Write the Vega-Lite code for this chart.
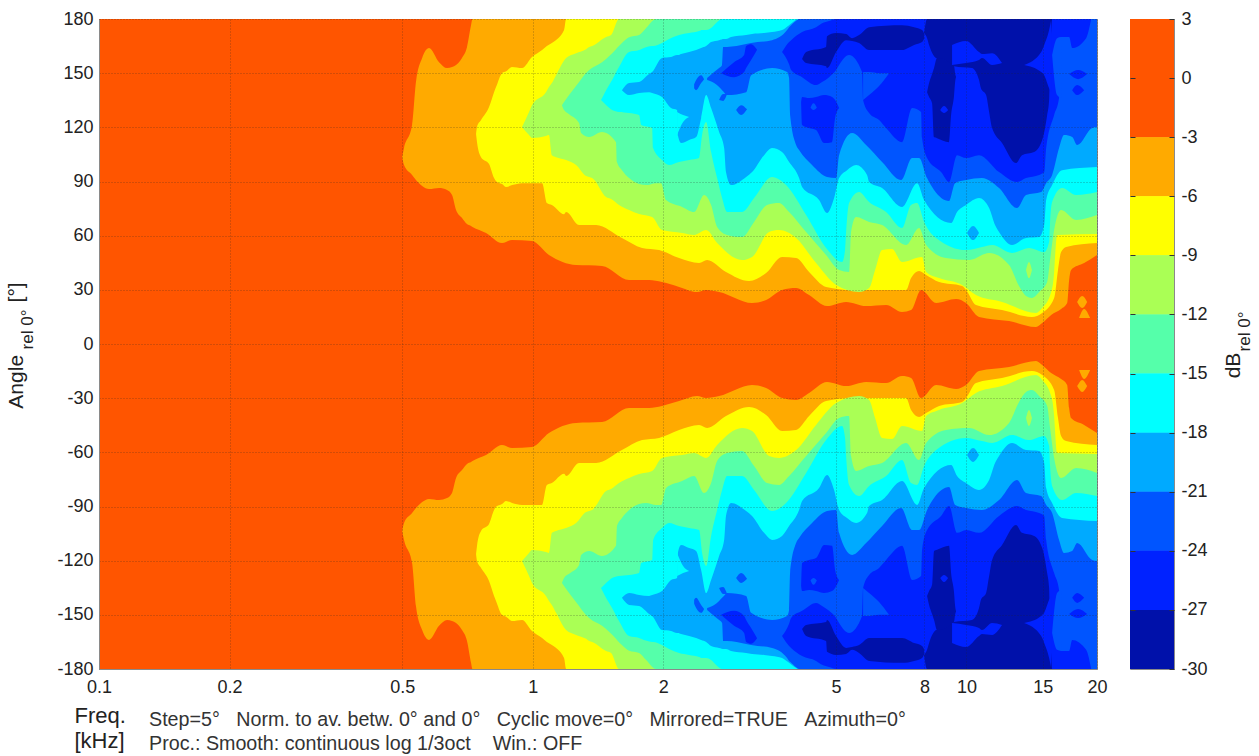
{"$schema":"https://vega.github.io/schema/vega-lite/v6.json","background":"white","bounds":"flush","spacing":33,"padding":{"left":4,"top":9,"right":0,"bottom":0},
"datasets":{"d":[
{"s":"base","b":-3,"f":0.1,"lo":0,"hi":180},{"s":"base","b":-3,"f":20,"lo":0,"hi":180},
{"s":"A","b":-6,"f":0.5,"lo":103.5,"hi":103.5},{"s":"A","b":-6,"f":0.505,"lo":99.1,"hi":108.5},{"s":"A","b":-6,"f":0.527,"lo":93.6,"hi":121.3},{"s":"A","b":-6,"f":0.538,"lo":90.8,"hi":145.1},{"s":"A","b":-6,"f":0.556,"lo":87.5,"hi":158.4},{"s":"A","b":-6,"f":0.5767,"lo":85.8,"hi":163.9},{"s":"A","b":-6,"f":0.6081,"lo":86.4,"hi":156.1},{"s":"A","b":-6,"f":0.6345,"lo":85.3,"hi":152.8},{"s":"A","b":-6,"f":0.6516,"lo":82.5,"hi":153.4},{"s":"A","b":-6,"f":0.6656,"lo":74.2,"hi":154.5},{"s":"A","b":-6,"f":0.687,"lo":69.8,"hi":158.4},{"s":"A","b":-6,"f":0.7055,"lo":66.4,"hi":164.5},{"s":"A","b":-6,"f":0.7207,"lo":65.3,"hi":176.6},{"s":"A","b":-6,"f":0.7263,"lo":64.8,"hi":180},{"s":"A","b":-6,"f":0.7805,"lo":61.5,"hi":180},{"s":"A","b":-6,"f":0.8496,"lo":55.9,"hi":180},{"s":"A","b":-6,"f":0.896,"lo":57.6,"hi":180},{"s":"A","b":-6,"f":0.9963,"lo":57,"hi":180},{"s":"A","b":-6,"f":1.09,"lo":49.3,"hi":180},{"s":"A","b":-6,"f":1.259,"lo":43.7,"hi":180},{"s":"A","b":-6,"f":1.445,"lo":43.2,"hi":180},{"s":"A","b":-6,"f":1.668,"lo":35.4,"hi":180},{"s":"A","b":-6,"f":1.855,"lo":35.4,"hi":180},{"s":"A","b":-6,"f":1.987,"lo":34.3,"hi":180},{"s":"A","b":-6,"f":2.175,"lo":31.6,"hi":180},{"s":"A","b":-6,"f":2.393,"lo":28.8,"hi":180},{"s":"A","b":-6,"f":2.511,"lo":29.9,"hi":180},{"s":"A","b":-6,"f":2.69,"lo":28.8,"hi":180},{"s":"A","b":-6,"f":3.204,"lo":22.7,"hi":180},{"s":"A","b":-6,"f":3.452,"lo":24.4,"hi":180},{"s":"A","b":-6,"f":3.757,"lo":29.9,"hi":180},{"s":"A","b":-6,"f":4.048,"lo":31,"hi":180},{"s":"A","b":-6,"f":4.337,"lo":27.1,"hi":180},{"s":"A","b":-6,"f":4.77,"lo":21,"hi":180},{"s":"A","b":-6,"f":5.279,"lo":23.3,"hi":180},{"s":"A","b":-6,"f":5.87,"lo":21,"hi":180},{"s":"A","b":-6,"f":6.528,"lo":21.6,"hi":180},{"s":"A","b":-6,"f":7.105,"lo":17.7,"hi":180},{"s":"A","b":-6,"f":7.454,"lo":18.8,"hi":180},{"s":"A","b":-6,"f":7.86,"lo":29.9,"hi":180},{"s":"A","b":-6,"f":8.513,"lo":22.7,"hi":180},{"s":"A","b":-6,"f":9.465,"lo":24.9,"hi":180},{"s":"A","b":-6,"f":9.98,"lo":22.7,"hi":180},{"s":"A","b":-6,"f":10.69,"lo":15,"hi":180},{"s":"A","b":-6,"f":12.54,"lo":12.7,"hi":180},{"s":"A","b":-6,"f":14.47,"lo":9.4,"hi":180},{"s":"A","b":-6,"f":14.95,"lo":11.6,"hi":180},{"s":"A","b":-6,"f":15.68,"lo":16.1,"hi":180},{"s":"A","b":-6,"f":16.53,"lo":19.4,"hi":180},{"s":"A","b":-6,"f":17.07,"lo":22.7,"hi":180},{"s":"A","b":-6,"f":17.25,"lo":35.4,"hi":180},{"s":"A","b":-6,"f":17.43,"lo":41,"hi":180},{"s":"A","b":-6,"f":18.68,"lo":44.8,"hi":180},{"s":"A","b":-6,"f":20,"lo":49.3,"hi":180},
{"s":"A2","b":-6,"f":18,"lo":23.3,"hi":23.3},{"s":"A2","b":-6,"f":18.49,"lo":19.9,"hi":26.6},{"s":"A2","b":-6,"f":18.98,"lo":23.3,"hi":23.3},
{"s":"A3","b":-6,"f":18.19,"lo":14.4,"hi":14.4},{"s":"A3","b":-6,"f":18.68,"lo":14.4,"hi":19.4},{"s":"A3","b":-6,"f":19.28,"lo":14.4,"hi":14.4},
{"s":"B","b":-9,"f":0.7402,"lo":116.3,"hi":116.3},{"s":"B","b":-9,"f":0.744,"lo":111.8,"hi":120.2},{"s":"B","b":-9,"f":0.76,"lo":103.5,"hi":124},{"s":"B","b":-9,"f":0.793,"lo":99.7,"hi":131.2},{"s":"B","b":-9,"f":0.8144,"lo":91.9,"hi":139.5},{"s":"B","b":-9,"f":0.823,"lo":90.2,"hi":142.3},{"s":"B","b":-9,"f":0.8496,"lo":88.6,"hi":150},{"s":"B","b":-9,"f":0.868,"lo":86.9,"hi":151},{"s":"B","b":-9,"f":0.896,"lo":88,"hi":153.4},{"s":"B","b":-9,"f":0.9448,"lo":89.1,"hi":152.8},{"s":"B","b":-9,"f":0.9963,"lo":89.1,"hi":158.9},{"s":"B","b":-9,"f":1.051,"lo":89.1,"hi":162.8},{"s":"B","b":-9,"f":1.078,"lo":78.1,"hi":165},{"s":"B","b":-9,"f":1.107,"lo":77,"hi":166.7},{"s":"B","b":-9,"f":1.181,"lo":71.9,"hi":173.9},{"s":"B","b":-9,"f":1.194,"lo":73.1,"hi":180},{"s":"B","b":-9,"f":1.279,"lo":65.9,"hi":180},{"s":"B","b":-9,"f":1.4,"lo":65.9,"hi":180},{"s":"B","b":-9,"f":1.606,"lo":58.7,"hi":180},{"s":"B","b":-9,"f":1.787,"lo":53.2,"hi":180},{"s":"B","b":-9,"f":1.956,"lo":52,"hi":180},{"s":"B","b":-9,"f":2.175,"lo":47.6,"hi":180},{"s":"B","b":-9,"f":2.419,"lo":44.8,"hi":180},{"s":"B","b":-9,"f":2.524,"lo":46.5,"hi":180},{"s":"B","b":-9,"f":2.79,"lo":39.9,"hi":180},{"s":"B","b":-9,"f":3.154,"lo":34.9,"hi":180},{"s":"B","b":-9,"f":3.452,"lo":39.3,"hi":180},{"s":"B","b":-9,"f":3.757,"lo":48.2,"hi":180},{"s":"B","b":-9,"f":4.048,"lo":47.6,"hi":180},{"s":"B","b":-9,"f":4.337,"lo":39.9,"hi":180},{"s":"B","b":-9,"f":4.747,"lo":31.6,"hi":180},{"s":"B","b":-9,"f":5.449,"lo":29.9,"hi":180},{"s":"B","b":-9,"f":6.289,"lo":29.9,"hi":180},{"s":"B","b":-9,"f":7.259,"lo":29.9,"hi":180},{"s":"B","b":-9,"f":7.454,"lo":36.5,"hi":180},{"s":"B","b":-9,"f":7.777,"lo":40.4,"hi":180},{"s":"B","b":-9,"f":8.072,"lo":38.2,"hi":180},{"s":"B","b":-9,"f":8.648,"lo":34.3,"hi":180},{"s":"B","b":-9,"f":9.771,"lo":32.1,"hi":180},{"s":"B","b":-9,"f":9.98,"lo":29.9,"hi":180},{"s":"B","b":-9,"f":10.52,"lo":21.6,"hi":180},{"s":"B","b":-9,"f":12.08,"lo":18.8,"hi":180},{"s":"B","b":-9,"f":14.16,"lo":15,"hi":180},{"s":"B","b":-9,"f":14.95,"lo":17.2,"hi":180},{"s":"B","b":-9,"f":15.93,"lo":25.5,"hi":180},{"s":"B","b":-9,"f":16.26,"lo":41,"hi":180},{"s":"B","b":-9,"f":16.53,"lo":50.9,"hi":180},{"s":"B","b":-9,"f":16.98,"lo":53.7,"hi":180},{"s":"B","b":-9,"f":20,"lo":55.9,"hi":180},
{"s":"C","b":-12,"f":0.9448,"lo":120.2,"hi":120.2},{"s":"C","b":-12,"f":0.9806,"lo":115.7,"hi":128.5},{"s":"C","b":-12,"f":0.9963,"lo":114.1,"hi":132.3},{"s":"C","b":-12,"f":1.073,"lo":115.2,"hi":139.5},{"s":"C","b":-12,"f":1.09,"lo":115.7,"hi":142.3},{"s":"C","b":-12,"f":1.107,"lo":104.6,"hi":144.5},{"s":"C","b":-12,"f":1.132,"lo":103.5,"hi":148.9},{"s":"C","b":-12,"f":1.194,"lo":101.9,"hi":158.4},{"s":"C","b":-12,"f":1.259,"lo":99.1,"hi":161.1},{"s":"C","b":-12,"f":1.328,"lo":93,"hi":163.3},{"s":"C","b":-12,"f":1.349,"lo":92.5,"hi":164.5},{"s":"C","b":-12,"f":1.371,"lo":91.9,"hi":165},{"s":"C","b":-12,"f":1.476,"lo":81.4,"hi":170},{"s":"C","b":-12,"f":1.516,"lo":80.3,"hi":171.1},{"s":"C","b":-12,"f":1.581,"lo":77,"hi":180},{"s":"C","b":-12,"f":1.668,"lo":74.2,"hi":180},{"s":"C","b":-12,"f":1.759,"lo":72,"hi":180},{"s":"C","b":-12,"f":1.885,"lo":70.3,"hi":180},{"s":"C","b":-12,"f":1.987,"lo":63.1,"hi":180},{"s":"C","b":-12,"f":2.21,"lo":61.5,"hi":180},{"s":"C","b":-12,"f":2.356,"lo":60.4,"hi":180},{"s":"C","b":-12,"f":2.511,"lo":63.1,"hi":180},{"s":"C","b":-12,"f":2.662,"lo":55.9,"hi":180},{"s":"C","b":-12,"f":3.039,"lo":46.5,"hi":180},{"s":"C","b":-12,"f":3.204,"lo":48.2,"hi":180},{"s":"C","b":-12,"f":3.507,"lo":62,"hi":180},{"s":"C","b":-12,"f":3.698,"lo":63.1,"hi":180},{"s":"C","b":-12,"f":4.048,"lo":58.7,"hi":180},{"s":"C","b":-12,"f":4.501,"lo":44.8,"hi":180},{"s":"C","b":-12,"f":5.006,"lo":32.7,"hi":180},{"s":"C","b":-12,"f":5.655,"lo":28.8,"hi":180},{"s":"C","b":-12,"f":5.964,"lo":31,"hi":180},{"s":"C","b":-12,"f":6.157,"lo":41,"hi":180},{"s":"C","b":-12,"f":6.39,"lo":52,"hi":180},{"s":"C","b":-12,"f":6.738,"lo":52.6,"hi":180},{"s":"C","b":-12,"f":7.105,"lo":45.4,"hi":180},{"s":"C","b":-12,"f":7.901,"lo":48.2,"hi":180},{"s":"C","b":-12,"f":8.072,"lo":39.9,"hi":180},{"s":"C","b":-12,"f":8.648,"lo":36.5,"hi":180},{"s":"C","b":-12,"f":9.771,"lo":32.7,"hi":180},{"s":"C","b":-12,"f":10.52,"lo":27.1,"hi":180},{"s":"C","b":-12,"f":12.08,"lo":23.3,"hi":180},{"s":"C","b":-12,"f":14.47,"lo":17.2,"hi":180},{"s":"C","b":-12,"f":14.95,"lo":19.9,"hi":180},{"s":"C","b":-12,"f":15.68,"lo":28.8,"hi":180},{"s":"C","b":-12,"f":15.93,"lo":39.9,"hi":180},{"s":"C","b":-12,"f":16,"lo":47.6,"hi":180},{"s":"C","b":-12,"f":16.18,"lo":60.4,"hi":180},{"s":"C","b":-12,"f":20,"lo":60.9,"hi":180},
{"s":"D","b":-15,"f":1.168,"lo":132.3,"hi":132.3},{"s":"D","b":-15,"f":1.181,"lo":129.6,"hi":134},{"s":"D","b":-15,"f":1.213,"lo":127.3,"hi":137.9},{"s":"D","b":-15,"f":1.279,"lo":122.4,"hi":145.1},{"s":"D","b":-15,"f":1.293,"lo":116.8,"hi":146.7},{"s":"D","b":-15,"f":1.349,"lo":114.6,"hi":151.7},{"s":"D","b":-15,"f":1.445,"lo":117.4,"hi":156.1},{"s":"D","b":-15,"f":1.556,"lo":111.8,"hi":163.3},{"s":"D","b":-15,"f":1.564,"lo":100.8,"hi":163.9},{"s":"D","b":-15,"f":1.606,"lo":96.3,"hi":166.7},{"s":"D","b":-15,"f":1.668,"lo":91.9,"hi":169.9},{"s":"D","b":-15,"f":1.759,"lo":88.6,"hi":171.1},{"s":"D","b":-15,"f":1.826,"lo":88,"hi":175},{"s":"D","b":-15,"f":1.925,"lo":89.1,"hi":180},{"s":"D","b":-15,"f":1.977,"lo":89.1,"hi":180},{"s":"D","b":-15,"f":2.03,"lo":79.7,"hi":180},{"s":"D","b":-15,"f":2.21,"lo":75.9,"hi":180},{"s":"D","b":-15,"f":2.356,"lo":73.1,"hi":180},{"s":"D","b":-15,"f":2.484,"lo":82.5,"hi":180},{"s":"D","b":-15,"f":2.578,"lo":77,"hi":180},{"s":"D","b":-15,"f":2.662,"lo":64.8,"hi":180},{"s":"D","b":-15,"f":2.806,"lo":60.4,"hi":180},{"s":"D","b":-15,"f":3.039,"lo":59.2,"hi":180},{"s":"D","b":-15,"f":3.239,"lo":67.6,"hi":180},{"s":"D","b":-15,"f":3.47,"lo":77,"hi":180},{"s":"D","b":-15,"f":3.698,"lo":78.1,"hi":180},{"s":"D","b":-15,"f":3.9,"lo":73.1,"hi":180},{"s":"D","b":-15,"f":4.269,"lo":62,"hi":180},{"s":"D","b":-15,"f":4.747,"lo":49.3,"hi":180},{"s":"D","b":-15,"f":5.086,"lo":41,"hi":180},{"s":"D","b":-15,"f":5.363,"lo":39.9,"hi":180},{"s":"D","b":-15,"f":5.42,"lo":62,"hi":180},{"s":"D","b":-15,"f":5.566,"lo":70.3,"hi":180},{"s":"D","b":-15,"f":5.964,"lo":67.6,"hi":180},{"s":"D","b":-15,"f":6.39,"lo":65.9,"hi":180},{"s":"D","b":-15,"f":7.259,"lo":54.8,"hi":180},{"s":"D","b":-15,"f":7.777,"lo":64.2,"hi":180},{"s":"D","b":-15,"f":8.072,"lo":54.8,"hi":180},{"s":"D","b":-15,"f":8.975,"lo":47.6,"hi":180},{"s":"D","b":-15,"f":10.14,"lo":46.5,"hi":180},{"s":"D","b":-15,"f":11.28,"lo":50.4,"hi":180},{"s":"D","b":-15,"f":12.54,"lo":43.7,"hi":180},{"s":"D","b":-15,"f":13.22,"lo":32.1,"hi":180},{"s":"D","b":-15,"f":13.72,"lo":26.6,"hi":180},{"s":"D","b":-15,"f":14.16,"lo":25.5,"hi":180},{"s":"D","b":-15,"f":14.71,"lo":28.8,"hi":180},{"s":"D","b":-15,"f":15.35,"lo":34.3,"hi":180},{"s":"D","b":-15,"f":15.59,"lo":46.5,"hi":180},{"s":"D","b":-15,"f":15.93,"lo":63.1,"hi":180},{"s":"D","b":-15,"f":16.53,"lo":74.2,"hi":180},{"s":"D","b":-15,"f":17.9,"lo":68.7,"hi":180},{"s":"D","b":-15,"f":20,"lo":71.4,"hi":180},
{"s":"D2","b":-12,"f":13.72,"lo":41,"hi":41},{"s":"D2","b":-12,"f":13.94,"lo":36.5,"hi":45.4},{"s":"D2","b":-12,"f":14.16,"lo":41,"hi":41},
{"s":"E","b":-18,"f":1.437,"lo":135.1,"hi":135.1},{"s":"E","b":-18,"f":1.468,"lo":132.9,"hi":139.5},{"s":"E","b":-18,"f":1.524,"lo":129.6,"hi":146.2},{"s":"E","b":-18,"f":1.581,"lo":128.5,"hi":153.4},{"s":"E","b":-18,"f":1.668,"lo":127.9,"hi":161.7},{"s":"E","b":-18,"f":1.759,"lo":126.8,"hi":162.8},{"s":"E","b":-18,"f":1.778,"lo":121.3,"hi":163.3},{"s":"E","b":-18,"f":1.885,"lo":119.6,"hi":165},{"s":"E","b":-18,"f":1.895,"lo":108.5,"hi":165},{"s":"E","b":-18,"f":1.987,"lo":101.9,"hi":166.7},{"s":"E","b":-18,"f":2.062,"lo":99.1,"hi":168.9},{"s":"E","b":-18,"f":2.175,"lo":100.8,"hi":171.1},{"s":"E","b":-18,"f":2.294,"lo":101.9,"hi":172.2},{"s":"E","b":-18,"f":2.419,"lo":103,"hi":173.3},{"s":"E","b":-18,"f":2.458,"lo":115.7,"hi":173.9},{"s":"E","b":-18,"f":2.511,"lo":122.9,"hi":173.9},{"s":"E","b":-18,"f":2.578,"lo":106.3,"hi":175},{"s":"E","b":-18,"f":2.662,"lo":91.9,"hi":178.3},{"s":"E","b":-18,"f":2.733,"lo":80.8,"hi":180},{"s":"E","b":-18,"f":2.806,"lo":73.1,"hi":180},{"s":"E","b":-18,"f":3.039,"lo":73.1,"hi":180},{"s":"E","b":-18,"f":3.239,"lo":80.8,"hi":180},{"s":"E","b":-18,"f":3.563,"lo":92.5,"hi":180},{"s":"E","b":-18,"f":3.838,"lo":88,"hi":180},{"s":"E","b":-18,"f":4.269,"lo":71.4,"hi":180},{"s":"E","b":-18,"f":4.747,"lo":53.2,"hi":180},{"s":"E","b":-18,"f":5.168,"lo":45.4,"hi":180},{"s":"E","b":-18,"f":5.25,"lo":52,"hi":180},{"s":"E","b":-18,"f":5.279,"lo":62,"hi":180},{"s":"E","b":-18,"f":5.363,"lo":78.1,"hi":180},{"s":"E","b":-18,"f":5.655,"lo":84.2,"hi":180},{"s":"E","b":-18,"f":5.964,"lo":78.6,"hi":180},{"s":"E","b":-18,"f":6.528,"lo":73.1,"hi":180},{"s":"E","b":-18,"f":7.105,"lo":64.2,"hi":180},{"s":"E","b":-18,"f":7.454,"lo":77,"hi":180},{"s":"E","b":-18,"f":7.695,"lo":78.1,"hi":180},{"s":"E","b":-18,"f":7.987,"lo":67.6,"hi":180},{"s":"E","b":-18,"f":8.513,"lo":58.7,"hi":180},{"s":"E","b":-18,"f":9.98,"lo":52,"hi":180},{"s":"E","b":-18,"f":10.86,"lo":53.7,"hi":180},{"s":"E","b":-18,"f":11.46,"lo":54.8,"hi":180},{"s":"E","b":-18,"f":12.74,"lo":50.4,"hi":180},{"s":"E","b":-18,"f":13.94,"lo":53.2,"hi":180},{"s":"E","b":-18,"f":15.11,"lo":50.9,"hi":180},{"s":"E","b":-18,"f":15.51,"lo":56.5,"hi":180},{"s":"E","b":-18,"f":15.59,"lo":67.6,"hi":180},{"s":"E","b":-18,"f":15.76,"lo":78.6,"hi":180},{"s":"E","b":-18,"f":16.61,"lo":86.4,"hi":180},{"s":"E","b":-18,"f":17.9,"lo":82.5,"hi":180},{"s":"E","b":-18,"f":20,"lo":84.2,"hi":180},
{"s":"F","b":-21,"f":1.606,"lo":140.6,"hi":140.6},{"s":"F","b":-21,"f":1.668,"lo":137.9,"hi":144.5},{"s":"F","b":-21,"f":1.759,"lo":139,"hi":145.1},{"s":"F","b":-21,"f":1.855,"lo":139.5,"hi":149.5},{"s":"F","b":-21,"f":1.885,"lo":139,"hi":150.6},{"s":"F","b":-21,"f":1.987,"lo":136.8,"hi":158.4},{"s":"F","b":-21,"f":2.084,"lo":130.7,"hi":158.9},{"s":"F","b":-21,"f":2.152,"lo":129.6,"hi":160},{"s":"F","b":-21,"f":2.163,"lo":115.2,"hi":160},{"s":"F","b":-21,"f":2.198,"lo":111.3,"hi":160.6},{"s":"F","b":-21,"f":2.294,"lo":113,"hi":161.7},{"s":"F","b":-21,"f":2.381,"lo":114.6,"hi":162.8},{"s":"F","b":-21,"f":2.445,"lo":125.1,"hi":163.9},{"s":"F","b":-21,"f":2.511,"lo":137.9,"hi":165},{"s":"F","b":-21,"f":2.578,"lo":130.7,"hi":167.2},{"s":"F","b":-21,"f":2.69,"lo":117.4,"hi":168.3},{"s":"F","b":-21,"f":2.763,"lo":108.5,"hi":168.9},{"s":"F","b":-21,"f":2.79,"lo":95.2,"hi":168.9},{"s":"F","b":-21,"f":2.866,"lo":88,"hi":170},{"s":"F","b":-21,"f":3.105,"lo":92.5,"hi":171.1},{"s":"F","b":-21,"f":3.204,"lo":95.2,"hi":171.7},{"s":"F","b":-21,"f":3.416,"lo":104.6,"hi":172.2},{"s":"F","b":-21,"f":3.563,"lo":108.5,"hi":172.8},{"s":"F","b":-21,"f":3.757,"lo":106.3,"hi":173.9},{"s":"F","b":-21,"f":3.9,"lo":100.8,"hi":176.6},{"s":"F","b":-21,"f":4.113,"lo":91.9,"hi":180},{"s":"F","b":-21,"f":4.179,"lo":86.9,"hi":180},{"s":"F","b":-21,"f":4.573,"lo":79.7,"hi":180},{"s":"F","b":-21,"f":4.77,"lo":72.5,"hi":180},{"s":"F","b":-21,"f":4.953,"lo":80.8,"hi":180},{"s":"F","b":-21,"f":5.086,"lo":91.9,"hi":180},{"s":"F","b":-21,"f":5.306,"lo":96.3,"hi":180},{"s":"F","b":-21,"f":5.566,"lo":99.1,"hi":180},{"s":"F","b":-21,"f":5.9,"lo":93.6,"hi":180},{"s":"F","b":-21,"f":5.964,"lo":89.7,"hi":180},{"s":"F","b":-21,"f":6.39,"lo":86.4,"hi":180},{"s":"F","b":-21,"f":7.105,"lo":75.9,"hi":180},{"s":"F","b":-21,"f":7.695,"lo":89.1,"hi":180},{"s":"F","b":-21,"f":7.987,"lo":79.7,"hi":180},{"s":"F","b":-21,"f":9.217,"lo":67,"hi":180},{"s":"F","b":-21,"f":9.515,"lo":73.1,"hi":180},{"s":"F","b":-21,"f":9.98,"lo":77,"hi":180},{"s":"F","b":-21,"f":10.69,"lo":80.8,"hi":180},{"s":"F","b":-21,"f":11.28,"lo":75.3,"hi":180},{"s":"F","b":-21,"f":11.64,"lo":65.9,"hi":180},{"s":"F","b":-21,"f":11.89,"lo":62,"hi":180},{"s":"F","b":-21,"f":12.74,"lo":54.8,"hi":180},{"s":"F","b":-21,"f":13.72,"lo":58.7,"hi":180},{"s":"F","b":-21,"f":14.71,"lo":59.2,"hi":180},{"s":"F","b":-21,"f":15.11,"lo":65.9,"hi":180},{"s":"F","b":-21,"f":15.27,"lo":79.7,"hi":180},{"s":"F","b":-21,"f":15.76,"lo":88,"hi":180},{"s":"F","b":-21,"f":16.61,"lo":96.3,"hi":180},{"s":"F","b":-21,"f":20,"lo":98,"hi":180},
{"s":"F2","b":-18,"f":2.152,"lo":115.7,"hi":128.5},{"s":"F2","b":-18,"f":2.222,"lo":122.9,"hi":126.8},{"s":"F2","b":-18,"f":2.294,"lo":125.7,"hi":125.7},
{"s":"F3","b":-21,"f":10.03,"lo":61.5,"hi":61.5},{"s":"F3","b":-21,"f":10.36,"lo":57.6,"hi":65.3},{"s":"F3","b":-21,"f":10.69,"lo":61.5,"hi":61.5},
{"s":"G1","b":-24,"f":2.356,"lo":141.7,"hi":143.9},{"s":"G1","b":-24,"f":2.381,"lo":140.6,"hi":146.2},{"s":"G1","b":-24,"f":2.445,"lo":144.5,"hi":148.9},{"s":"G1","b":-24,"f":2.484,"lo":146.7,"hi":146.7},
{"s":"G","b":-24,"f":2.524,"lo":146.2,"hi":147.3},{"s":"G","b":-24,"f":2.62,"lo":144.5,"hi":150.6},{"s":"G","b":-24,"f":2.69,"lo":142.3,"hi":152.8},{"s":"G","b":-24,"f":2.733,"lo":140.6,"hi":154.5},{"s":"G","b":-24,"f":2.748,"lo":140,"hi":164.5},{"s":"G","b":-24,"f":2.806,"lo":137.9,"hi":164.5},{"s":"G","b":-24,"f":3.105,"lo":139.5,"hi":166.1},{"s":"G","b":-24,"f":3.188,"lo":148.9,"hi":166.7},{"s":"G","b":-24,"f":3.563,"lo":152.8,"hi":168.3},{"s":"G","b":-24,"f":3.859,"lo":150.6,"hi":173.9},{"s":"G","b":-24,"f":3.9,"lo":147.3,"hi":175.5},{"s":"G","b":-24,"f":3.921,"lo":126.8,"hi":176},{"s":"G","b":-24,"f":4.048,"lo":110.2,"hi":179},{"s":"G","b":-24,"f":4.113,"lo":107.4,"hi":180},{"s":"G","b":-24,"f":4.406,"lo":99.1,"hi":180},{"s":"G","b":-24,"f":4.77,"lo":92.5,"hi":180},{"s":"G","b":-24,"f":5.006,"lo":91.9,"hi":180},{"s":"G","b":-24,"f":5.086,"lo":104.6,"hi":180},{"s":"G","b":-24,"f":5.449,"lo":116.8,"hi":180},{"s":"G","b":-24,"f":5.87,"lo":110.2,"hi":180},{"s":"G","b":-24,"f":6.39,"lo":100.8,"hi":180},{"s":"G","b":-24,"f":7.07,"lo":90.8,"hi":180},{"s":"G","b":-24,"f":7.493,"lo":103,"hi":180},{"s":"G","b":-24,"f":7.777,"lo":103,"hi":180},{"s":"G","b":-24,"f":8.114,"lo":91.9,"hi":180},{"s":"G","b":-24,"f":8.42,"lo":85.3,"hi":180},{"s":"G","b":-24,"f":9.119,"lo":79.2,"hi":180},{"s":"G","b":-24,"f":9.415,"lo":89.1,"hi":180},{"s":"G","b":-24,"f":9.98,"lo":90.8,"hi":180},{"s":"G","b":-24,"f":10.86,"lo":91.9,"hi":180},{"s":"G","b":-24,"f":11.89,"lo":86.4,"hi":180},{"s":"G","b":-24,"f":13.08,"lo":75.3,"hi":180},{"s":"G","b":-24,"f":13.72,"lo":82.5,"hi":180},{"s":"G","b":-24,"f":14.87,"lo":84.2,"hi":180},{"s":"G","b":-24,"f":15.27,"lo":89.1,"hi":180},{"s":"G","b":-24,"f":15.76,"lo":93.6,"hi":180},{"s":"G","b":-24,"f":16.35,"lo":108.5,"hi":180},{"s":"G","b":-24,"f":16.79,"lo":115.7,"hi":180},{"s":"G","b":-24,"f":17.53,"lo":114.6,"hi":180},{"s":"G","b":-24,"f":18,"lo":110.2,"hi":180},{"s":"G","b":-24,"f":19.49,"lo":119.6,"hi":180},{"s":"G","b":-24,"f":20,"lo":120.2,"hi":180},
{"s":"G2","b":-24,"f":2.69,"lo":135.1,"hi":135.1},{"s":"G2","b":-24,"f":2.748,"lo":134.6,"hi":138.4},{"s":"G2","b":-24,"f":2.806,"lo":138.4,"hi":138.4},
{"s":"G3","b":-24,"f":2.944,"lo":129.6,"hi":129.6},{"s":"G3","b":-24,"f":3.023,"lo":126.8,"hi":132.3},{"s":"G3","b":-24,"f":3.12,"lo":130,"hi":130},
{"s":"H","b":-27,"f":3.757,"lo":161.7,"hi":161.7},{"s":"H","b":-27,"f":3.9,"lo":154.9,"hi":167.2},{"s":"H","b":-27,"f":3.942,"lo":151.7,"hi":168.3},{"s":"H","b":-27,"f":4.179,"lo":147.8,"hi":172.8},{"s":"H","b":-27,"f":4.501,"lo":143.4,"hi":175.5},{"s":"H","b":-27,"f":4.646,"lo":145.1,"hi":177.7},{"s":"H","b":-27,"f":4.823,"lo":147.8,"hi":178.9},{"s":"H","b":-27,"f":5.006,"lo":151.7,"hi":180},{"s":"H","b":-27,"f":5.086,"lo":154.5,"hi":180},{"s":"H","b":-27,"f":5.363,"lo":160,"hi":180},{"s":"H","b":-27,"f":5.745,"lo":150.6,"hi":180},{"s":"H","b":-27,"f":5.777,"lo":135.1,"hi":180},{"s":"H","b":-27,"f":5.964,"lo":127.9,"hi":180},{"s":"H","b":-27,"f":6.289,"lo":124,"hi":180},{"s":"H","b":-27,"f":6.528,"lo":119.6,"hi":180},{"s":"H","b":-27,"f":7.105,"lo":111.8,"hi":180},{"s":"H","b":-27,"f":7.493,"lo":130.7,"hi":180},{"s":"H","b":-27,"f":7.86,"lo":128.5,"hi":180},{"s":"H","b":-27,"f":7.901,"lo":114.1,"hi":180},{"s":"H","b":-27,"f":8.114,"lo":103,"hi":180},{"s":"H","b":-27,"f":8.74,"lo":95.2,"hi":180},{"s":"H","b":-27,"f":9.119,"lo":89.7,"hi":180},{"s":"H","b":-27,"f":9.515,"lo":104.6,"hi":180},{"s":"H","b":-27,"f":9.98,"lo":103,"hi":180},{"s":"H","b":-27,"f":10.69,"lo":104.6,"hi":180},{"s":"H","b":-27,"f":11.89,"lo":95.2,"hi":180},{"s":"H","b":-27,"f":13.08,"lo":89.7,"hi":180},{"s":"H","b":-27,"f":13.72,"lo":91.9,"hi":180},{"s":"H","b":-27,"f":14.71,"lo":93.6,"hi":180},{"s":"H","b":-27,"f":15.11,"lo":95.2,"hi":180},{"s":"H","b":-27,"f":15.27,"lo":108.5,"hi":180},{"s":"H","b":-27,"f":15.93,"lo":126.8,"hi":180},{"s":"H","b":-27,"f":16.35,"lo":136.2,"hi":180},{"s":"H","b":-27,"f":16.53,"lo":170,"hi":180},{"s":"H","b":-27,"f":17.25,"lo":170,"hi":180},{"s":"H","b":-27,"f":17.53,"lo":163.9,"hi":180},{"s":"H","b":-27,"f":18.88,"lo":169.4,"hi":180},{"s":"H","b":-27,"f":19.39,"lo":180,"hi":180},
{"s":"PA","b":-24,"f":5.777,"lo":135.1,"hi":150.6},{"s":"PA","b":-24,"f":5.964,"lo":137.9,"hi":150.6},{"s":"PA","b":-24,"f":6.289,"lo":142.9,"hi":150},{"s":"PA","b":-24,"f":6.632,"lo":150,"hi":150},
{"s":"PB","b":-24,"f":15.76,"lo":160,"hi":160},{"s":"PB","b":-24,"f":16.18,"lo":137.9,"hi":169.4},{"s":"PB","b":-24,"f":16.53,"lo":136.2,"hi":170},
{"s":"H2","b":-27,"f":4.157,"lo":134,"hi":134},{"s":"H2","b":-27,"f":4.179,"lo":121.3,"hi":136.8},{"s":"H2","b":-27,"f":4.337,"lo":119.6,"hi":136.2},{"s":"H2","b":-27,"f":4.501,"lo":118.5,"hi":136.8},{"s":"H2","b":-27,"f":4.696,"lo":111.3,"hi":137.9},{"s":"H2","b":-27,"f":4.9,"lo":111.8,"hi":136.8},{"s":"H2","b":-27,"f":4.979,"lo":125.1,"hi":135.1},{"s":"H2","b":-27,"f":5.086,"lo":130.7,"hi":130.7},
{"s":"H2b","b":-24,"f":4.37,"lo":131,"hi":131},{"s":"H2b","b":-24,"f":4.44,"lo":129.6,"hi":133.4},{"s":"H2b","b":-24,"f":4.52,"lo":131,"hi":131},
{"s":"H3","b":-27,"f":2.719,"lo":150,"hi":150},{"s":"H3","b":-27,"f":2.912,"lo":147.8,"hi":156.1},{"s":"H3","b":-27,"f":3.072,"lo":150.6,"hi":160},{"s":"H3","b":-27,"f":3.105,"lo":152.8,"hi":165},{"s":"H3","b":-27,"f":3.188,"lo":157.3,"hi":166},{"s":"H3","b":-27,"f":3.291,"lo":163,"hi":163},
{"s":"H4","b":-27,"f":17.25,"lo":149.5,"hi":149.5},{"s":"H4","b":-27,"f":18.1,"lo":146.7,"hi":151.7},{"s":"H4","b":-27,"f":18.98,"lo":149.5,"hi":149.5},
{"s":"H5","b":-27,"f":17.53,"lo":140.6,"hi":140.6},{"s":"H5","b":-27,"f":18,"lo":137.9,"hi":143.4},{"s":"H5","b":-27,"f":18.68,"lo":140.6,"hi":140.6},
{"s":"I1","b":-30,"f":4.179,"lo":157.8,"hi":157.8},{"s":"I1","b":-30,"f":4.269,"lo":155.6,"hi":161.7},{"s":"I1","b":-30,"f":4.747,"lo":153.9,"hi":164.5},{"s":"I1","b":-30,"f":4.77,"lo":152.8,"hi":170.5},{"s":"I1","b":-30,"f":5.006,"lo":161.7,"hi":172.2},{"s":"I1","b":-30,"f":5.279,"lo":168.3,"hi":171.7},{"s":"I1","b":-30,"f":5.449,"lo":167.8,"hi":169.4},{"s":"I1","b":-30,"f":5.655,"lo":166.7,"hi":171.1},{"s":"I1","b":-30,"f":5.964,"lo":162.8,"hi":175.5},{"s":"I1","b":-30,"f":7.105,"lo":162.8,"hi":176.6},{"s":"I1","b":-30,"f":7.573,"lo":165.6,"hi":175.5},{"s":"I1","b":-30,"f":7.901,"lo":167.2,"hi":173.9},{"s":"I1","b":-30,"f":7.987,"lo":169,"hi":172},
{"s":"I2","b":-30,"f":7.987,"lo":172.2,"hi":172.2},{"s":"I2","b":-30,"f":8.114,"lo":169.4,"hi":180},{"s":"I2","b":-30,"f":8.201,"lo":165.6,"hi":180},{"s":"I2","b":-30,"f":8.513,"lo":158.4,"hi":180},{"s":"I2","b":-30,"f":8.88,"lo":157.3,"hi":180},{"s":"I2","b":-30,"f":9.365,"lo":153.9,"hi":180},{"s":"I2","b":-30,"f":10.3,"lo":152.8,"hi":180},{"s":"I2","b":-30,"f":10.69,"lo":146.2,"hi":180},{"s":"I2","b":-30,"f":10.8,"lo":141.7,"hi":180},{"s":"I2","b":-30,"f":11.1,"lo":137.9,"hi":180},{"s":"I2","b":-30,"f":11.28,"lo":128.5,"hi":180},{"s":"I2","b":-30,"f":11.46,"lo":119.6,"hi":180},{"s":"I2","b":-30,"f":12.08,"lo":111.3,"hi":180},{"s":"I2","b":-30,"f":13.01,"lo":100.2,"hi":180},{"s":"I2","b":-30,"f":13.43,"lo":104.6,"hi":180},{"s":"I2","b":-30,"f":14.32,"lo":106.3,"hi":180},{"s":"I2","b":-30,"f":14.95,"lo":113,"hi":180},{"s":"I2","b":-30,"f":15.35,"lo":126.8,"hi":180},{"s":"I2","b":-30,"f":15.51,"lo":135.1,"hi":180},{"s":"I2","b":-30,"f":15.59,"lo":157.3,"hi":180},{"s":"I2","b":-30,"f":15.76,"lo":180,"hi":180},
{"s":"I3","b":-30,"f":8.114,"lo":139.5,"hi":139.5},{"s":"I3","b":-30,"f":8.201,"lo":136.8,"hi":144.5},{"s":"I3","b":-30,"f":8.332,"lo":133.4,"hi":149.5},{"s":"I3","b":-30,"f":8.42,"lo":114.6,"hi":152.8},{"s":"I3","b":-30,"f":8.556,"lo":114,"hi":158.4},{"s":"I3","b":-30,"f":9.119,"lo":111.8,"hi":156},{"s":"I3","b":-30,"f":9.217,"lo":126.8,"hi":155},{"s":"I3","b":-30,"f":9.365,"lo":137.9,"hi":154},{"s":"I3","b":-30,"f":9.415,"lo":145,"hi":150},{"s":"I3","b":-30,"f":9.465,"lo":148,"hi":148},
{"s":"J1","b":-27,"f":8.7,"lo":129.6,"hi":129.6},{"s":"J1","b":-27,"f":8.88,"lo":127.9,"hi":131.8},{"s":"J1","b":-27,"f":9.07,"lo":129.6,"hi":129.6},
{"s":"J2","b":-27,"f":9.265,"lo":154.5,"hi":165.6},{"s":"J2","b":-27,"f":9.98,"lo":155.6,"hi":167.8},{"s":"J2","b":-27,"f":10.69,"lo":157.3,"hi":161.7},{"s":"J2","b":-27,"f":10.86,"lo":158.4,"hi":160.6},{"s":"J2","b":-27,"f":11.46,"lo":154.5,"hi":161.1},{"s":"J2","b":-27,"f":12.08,"lo":155.6,"hi":155.6},
{"s":"J3","b":-27,"f":13.58,"lo":154.5,"hi":154.5},{"s":"J3","b":-27,"f":14.87,"lo":150.6,"hi":161.7},{"s":"J3","b":-27,"f":15.11,"lo":148.9,"hi":165.6},{"s":"J3","b":-27,"f":15.51,"lo":141.7,"hi":173.9},{"s":"J3","b":-27,"f":15.68,"lo":139.5,"hi":179.4}
],
"bar":[{"top":3,"bot":-3,"b":-3},{"top":-3,"bot":-6,"b":-6},{"top":-6,"bot":-9,"b":-9},{"top":-9,"bot":-12,"b":-12},{"top":-12,"bot":-15,"b":-15},{"top":-15,"bot":-18,"b":-18},{"top":-18,"bot":-21,"b":-21},{"top":-21,"bot":-24,"b":-24},{"top":-24,"bot":-27,"b":-27},{"top":-27,"bot":-30,"b":-30}]},
"config":{"font":"Liberation Sans","view":{"stroke":"#8a8a8a"},"axis":{"labelFont":"Liberation Sans","titleFont":"Liberation Sans","labelColor":"#222222","titleColor":"#222222","titleFontWeight":"normal","labelFontSize":18}},
"hconcat":[
{"width":998,"height":650,
"title":{"text":["Step=5°\u00a0\u00a0\u00a0Norm. to av. betw. 0° and 0°\u00a0\u00a0\u00a0Cyclic move=0°\u00a0\u00a0\u00a0Mirrored=TRUE\u00a0\u00a0\u00a0Azimuth=0°","Proc.: Smooth: continuous log 1/3oct\u00a0\u00a0\u00a0\u00a0Win.: OFF"],"orient":"bottom","anchor":"start","frame":"group","dx":50,"offset":-41,"fontSize":19.7,"fontWeight":"normal","color":"#333333","lineHeight":24,"font":"Liberation Sans"},
"resolve":{"scale":{"y":"independent"},"axis":{"y":"independent"}},
"layer":[
{"data":{"name":"d"},"mark":{"type":"area","interpolate":"monotone"},
"encoding":{
"x":{"field":"f","type":"quantitative","scale":{"type":"log","domain":[0.1,20],"nice":false,"base":10},"axis":{"values":[0.1,0.2,0.5,1,2,5,8,10,15,20],"format":"~g","title":["Freq.","[kHz]"],"titleFontSize":22,"titleAlign":"left","titleAnchor":"start","titleX":-25,"titleY":36,"titleLineHeight":25,"grid":true,"gridColor":"#222222","gridOpacity":0.4,"gridDash":[1,2],"zindex":1,"ticks":false,"domainColor":"#8a8a8a","labelPadding":9,"labelOverlap":false,"labelFlush":false}},
"y":{"field":"lo","type":"quantitative","scale":{"domain":[-180,180],"nice":false},"axis":{"values":[-180,-150,-120,-90,-60,-30,0,30,60,90,120,150,180],"labelExpr":"''+datum.value","title":"Angle\u00a0\u00a0\u00a0\u00a0\u00a0\u00a0\u00a0\u00a0\u00a0[°]","titleFontSize":21,"titleX":-73,"titleY":326,"grid":true,"gridColor":"#222222","gridOpacity":0.4,"gridDash":[1,2],"zindex":1,"ticks":false,"domainColor":"#8a8a8a","labelPadding":6}},
"y2":{"field":"hi"},
"color":{"field":"b","type":"ordinal","legend":null,"scale":{"domain":[-3,-6,-9,-12,-15,-18,-21,-24,-27,-30],"range":["#FF5500","#FFAA00","#FFFF00","#AAFF55","#55FFAA","#00FFFF","#00AAFF","#0055FF","#0022FF","#0011AA"]}},
"detail":{"field":"s"}}},
{"data":{"name":"d"},"mark":{"type":"area","interpolate":"monotone"},
"encoding":{
"x":{"field":"f","type":"quantitative"},
"y":{"field":"lo","type":"quantitative","scale":{"domain":[-180,180],"nice":false,"reverse":true},"axis":{"orient":"left","labels":false,"ticks":false,"domain":false,"grid":false,"title":"rel 0°","titleFontSize":17,"titleX":-63,"titleY":310}},
"y2":{"field":"hi"},
"color":{"field":"b","type":"ordinal","legend":null,"scale":{"domain":[-3,-6,-9,-12,-15,-18,-21,-24,-27,-30],"range":["#FF5500","#FFAA00","#FFFF00","#AAFF55","#55FFAA","#00FFFF","#00AAFF","#0055FF","#0022FF","#0011AA"]}},
"detail":{"field":"s"}}}
]},
{"width":44,"height":650,
"resolve":{"scale":{"y":"independent"},"axis":{"y":"independent"}},
"layer":[
{"data":{"name":"bar"},"mark":{"type":"rect"},
"encoding":{
"x":{"datum":0,"type":"quantitative","scale":{"domain":[0,1]},"axis":null},"x2":{"datum":1},
"y":{"field":"top","type":"quantitative","scale":{"domain":[-30,3],"nice":false},"axis":{"orient":"right","values":[3,0,-3,-6,-9,-12,-15,-18,-21,-24,-27,-30],"labelExpr":"''+datum.value","title":"dB","titleFontSize":21,"titleX":69,"titleY":346,"titleAngle":-90,"grid":false,"domain":false,"tickSize":-5,"tickColor":"#333333","labelPadding":12,"zindex":1}},
"y2":{"field":"bot"},
"color":{"field":"b","type":"ordinal","legend":null,"scale":{"domain":[-3,-6,-9,-12,-15,-18,-21,-24,-27,-30],"range":["#FF5500","#FFAA00","#FFFF00","#AAFF55","#55FFAA","#00FFFF","#00AAFF","#0055FF","#0022FF","#0011AA"]}}}},
{"data":{"name":"bar"},"mark":{"type":"rect"},
"encoding":{
"x":{"datum":0,"type":"quantitative","axis":null},"x2":{"datum":1},
"y":{"field":"top","type":"quantitative","scale":{"domain":[-30,3],"nice":false},"axis":{"orient":"left","values":[0,-3,-6,-9,-12,-15,-18,-21,-24,-27],"labels":false,"grid":false,"domain":false,"tickSize":-5,"tickColor":"#333333","zindex":1,"title":"rel 0°","titleFontSize":17,"titleX":123,"titleY":312,"titleAngle":-90}},
"y2":{"field":"bot"},
"color":{"field":"b","type":"ordinal","legend":null,"scale":{"domain":[-3,-6,-9,-12,-15,-18,-21,-24,-27,-30],"range":["#FF5500","#FFAA00","#FFFF00","#AAFF55","#55FFAA","#00FFFF","#00AAFF","#0055FF","#0022FF","#0011AA"]}}}}
]}
]}
